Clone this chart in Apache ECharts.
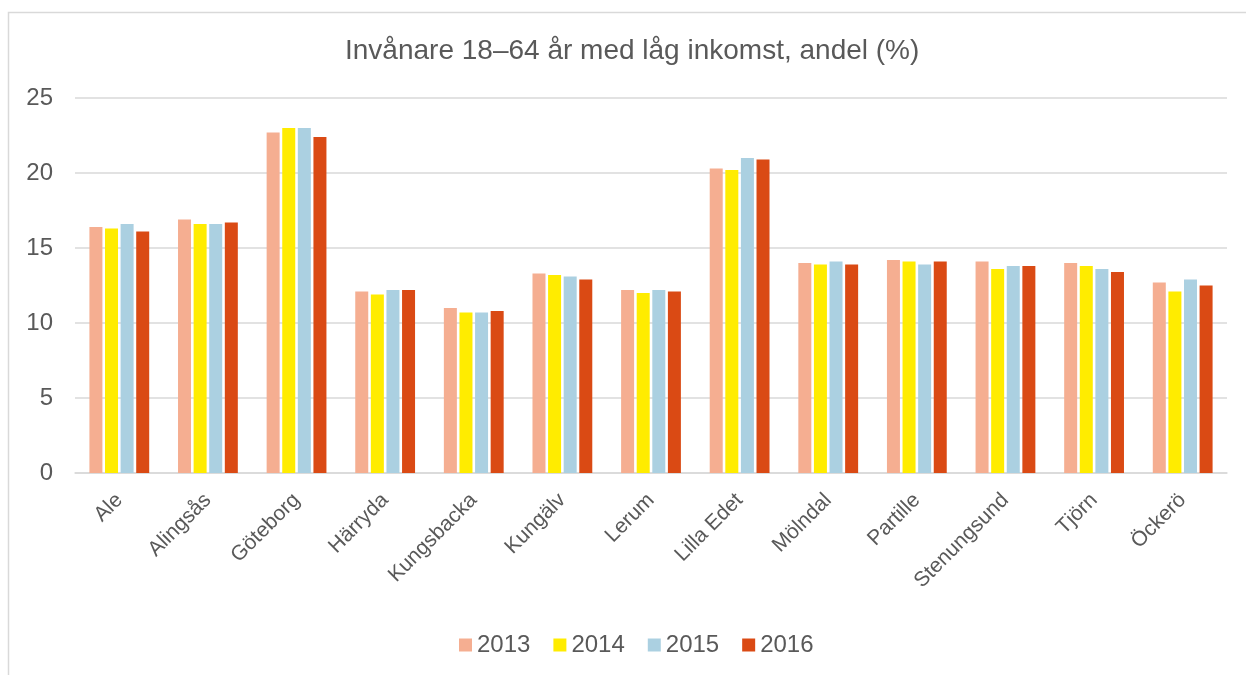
<!DOCTYPE html>
<html>
<head>
<meta charset="utf-8">
<script src="https://cdn.jsdelivr.net/npm/echarts@6/dist/echarts.min.js"></script>
<style>
html, body { margin: 0; padding: 0; background: #fff; }
#chart { width: 1246px; height: 675px; }
</style>
</head>
<body>
<div id="chart"></div>
<script>
// kommuner
const categories = ['Ale', 'Alingsås', 'Göteborg', 'Härryda', 'Kungsbacka', 'Kungälv', 'Lerum',
  'Lilla Edet', 'Mölndal', 'Partille', 'Stenungsund', 'Tjörn', 'Öckerö'];
const years = ['2013', '2014', '2015', '2016'];
const values2013 = [16.4, 16.9, 22.7, 12.1, 11.0, 13.3, 12.2, 20.3, 14.0, 14.2, 14.1, 14.0, 12.7];
const values2014 = [16.3, 16.6, 23.0, 11.9, 10.7, 13.2, 12.0, 20.2, 13.9, 14.1, 13.6, 13.8, 12.1];
const values2015 = [16.6, 16.6, 23.0, 12.2, 10.7, 13.1, 12.2, 21.0, 14.1, 13.9, 13.8, 13.6, 12.9];
const values2016 = [16.1, 16.7, 22.4, 12.2, 10.8, 12.9, 12.1, 20.9, 13.9, 14.1, 13.8, 13.4, 12.5];
const yTicks = [0, 5, 10, 15, 20, 25];

const colors = ['#F5AE91', '#FFEC00', '#ABD0E1', '#DA4A14'];
const allValues = [values2013, values2014, values2015, values2016];
const textColor = '#595959';
const font = 'Liberation Sans';

const myChart = echarts.init(document.getElementById('chart'));

const option = {
  animation: false,
  backgroundColor: '#fff',
  textStyle: { fontFamily: font },
  title: {
    text: 'Invånare 18–64 år med låg inkomst, andel (%)',
    left: 340,
    top: 32,
    textStyle: { fontSize: 28, fontWeight: 'normal', color: textColor, fontFamily: font }
  },
  // ram runt diagrammet
  graphic: [{
    type: 'rect',
    shape: { x: 8.5, y: 12.5, width: 1250, height: 700 },
    style: { fill: 'none', stroke: '#D9D9D9', lineWidth: 1.5 },
    silent: true
  }],
  legend: {
    top: 628,
    left: 454,
    itemWidth: 13,
    itemHeight: 13,
    itemGap: 23,
    icon: 'rect',
    textStyle: { fontSize: 24, color: textColor, fontFamily: font },
    data: years
  },
  grid: {
    left: 75,
    right: 19,
    top: 98,
    bottom: 202
  },
  xAxis: {
    type: 'category',
    data: categories,
    axisLine: { lineStyle: { color: '#D9D9D9', width: 1.5 } },
    axisTick: { show: false },
    axisLabel: {
      rotate: 45,
      interval: 0,
      margin: 24,
      fontSize: 21,
      color: textColor,
      fontFamily: font
    }
  },
  yAxis: {
    type: 'value',
    min: yTicks[0],
    max: yTicks[yTicks.length - 1],
    interval: 5,
    axisLine: { show: false },
    axisTick: { show: false },
    splitLine: { lineStyle: { color: '#D9D9D9', width: 1.5 } },
    axisLabel: { fontSize: 24, color: textColor, margin: 22, fontFamily: font }
  },
  series: years.map((y, i) => ({
    name: y,
    type: 'bar',
    data: allValues[i],
    barWidth: 13,
    barGap: '20%',
    itemStyle: { color: colors[i] }
  }))
};

myChart.setOption(option);
</script>
</body>
</html>
